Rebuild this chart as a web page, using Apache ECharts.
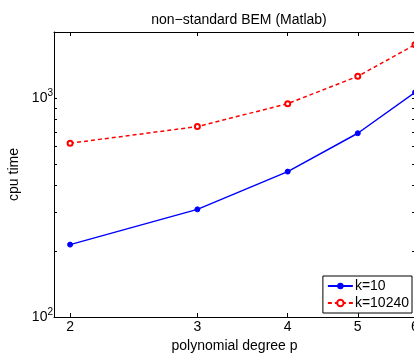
<!DOCTYPE html>
<html><head><meta charset="utf-8">
<script src="https://cdn.jsdelivr.net/npm/echarts@6/dist/echarts.min.js"></script>
<style>html,body{margin:0;padding:0;background:#fff}#c{width:414px;height:353px}</style>
</head><body><div id="c"></div>
<script>
const degrees = [2, 3, 4, 5, 6];
const k10 = [214, 310, 461, 690, 1060];
const k10240 = [621, 740, 942, 1255, 1750];
const xTicks = [2, 3, 4, 5, 6];
const yLabels = [100, 1000];
const yTicks = [100, 200, 300, 400, 500, 600, 700, 800, 900, 1000, 2000];

const font = 'Liberation Sans, Arial, Helvetica, sans-serif';
const chart = echarts.init(document.getElementById('c'), null, {renderer: 'canvas'});
const axisLine = {show: true, lineStyle: {color: '#000', width: 1}};
const yFmt = v => '10{s|' + Math.round(Math.log10(v)) + '}';
chart.setOption({
  animation: false,
  backgroundColor: '#fff',
  title: {text: 'non\u2212standard BEM (Matlab)', left: 234, textAlign: 'center', top: 8,
    textStyle: {fontFamily: font, fontSize: 14, fontWeight: 'normal', color: '#000'}},
  grid: {left: 54, top: 32, right: -1, bottom: 36, containLabel: false, outerBoundsMode: 'none'},
  legend: {
    right: 2, bottom: 40, orient: 'vertical', itemWidth: 25, itemHeight: 8, itemGap: 3,
    backgroundColor: '#fff', borderColor: '#000', borderWidth: 1, padding: [3, 3, 3, 4],
    textStyle: {fontFamily: font, fontSize: 14, color: '#000', padding: [0, 0, 0, -3]},
    data: ['k=10', 'k=10240']
  },
  xAxis: [{
    type: 'log', min: 1.9, max: 6, position: 'bottom',
    name: 'polynomial degree p', nameLocation: 'middle', nameGap: 15,
    nameTextStyle: {fontFamily: font, fontSize: 14, color: '#000'},
    axisLine: axisLine, splitLine: {show: false},
    axisTick: {show: true, inside: true, length: 4, customValues: xTicks, lineStyle: {color: '#000'}},
    axisLabel: {customValues: xTicks, margin: 3, fontFamily: font, fontSize: 14, color: '#000', formatter: v => String(Math.round(v))}
  }, {
    type: 'log', min: 1.9, max: 6, position: 'top',
    axisLine: axisLine, splitLine: {show: false},
    axisTick: {show: true, inside: true, length: 4, customValues: xTicks, lineStyle: {color: '#000'}},
    axisLabel: {show: false}
  }],
  yAxis: [{
    type: 'log', min: 100, max: 2000, position: 'left',
    name: 'cpu time', nameLocation: 'middle', nameGap: 28,
    nameTextStyle: {fontFamily: font, fontSize: 14, color: '#000'},
    axisLine: axisLine, splitLine: {show: false},
    axisTick: {show: true, inside: true, length: 3, customValues: yTicks, lineStyle: {color: '#000'}},
    axisLabel: {customValues: yLabels, margin: 1, fontFamily: font, fontSize: 14, color: '#000', formatter: yFmt,
      rich: {s: {fontFamily: font, fontSize: 10, color: '#000', padding: [0, 0, 9, 0]}}}
  }, {
    type: 'log', min: 100, max: 2000, position: 'right',
    axisLine: axisLine, splitLine: {show: false},
    axisTick: {show: true, inside: true, length: 3, customValues: yTicks, lineStyle: {color: '#000'}},
    axisLabel: {show: false}
  }],
  series: [{
    name: 'k=10', type: 'line', xAxisIndex: 0, yAxisIndex: 0,
    data: degrees.map((d, i) => [d, k10[i]]),
    symbol: 'circle', symbolSize: 5, showSymbol: true,
    lineStyle: {color: '#0000ff', width: 1.5, type: 'solid'},
    itemStyle: {color: '#0000ff', borderColor: '#0000ff'}
  }, {
    name: 'k=10240', type: 'line', xAxisIndex: 0, yAxisIndex: 0,
    data: degrees.map((d, i) => [d, k10240[i]]),
    symbol: 'emptyCircle', symbolSize: 5, showSymbol: true,
    lineStyle: {color: '#ff0000', width: 1.5, type: [4, 3]},
    itemStyle: {color: '#ff0000', borderColor: '#ff0000', borderWidth: 1.5}
  }]
});
</script></body></html>
